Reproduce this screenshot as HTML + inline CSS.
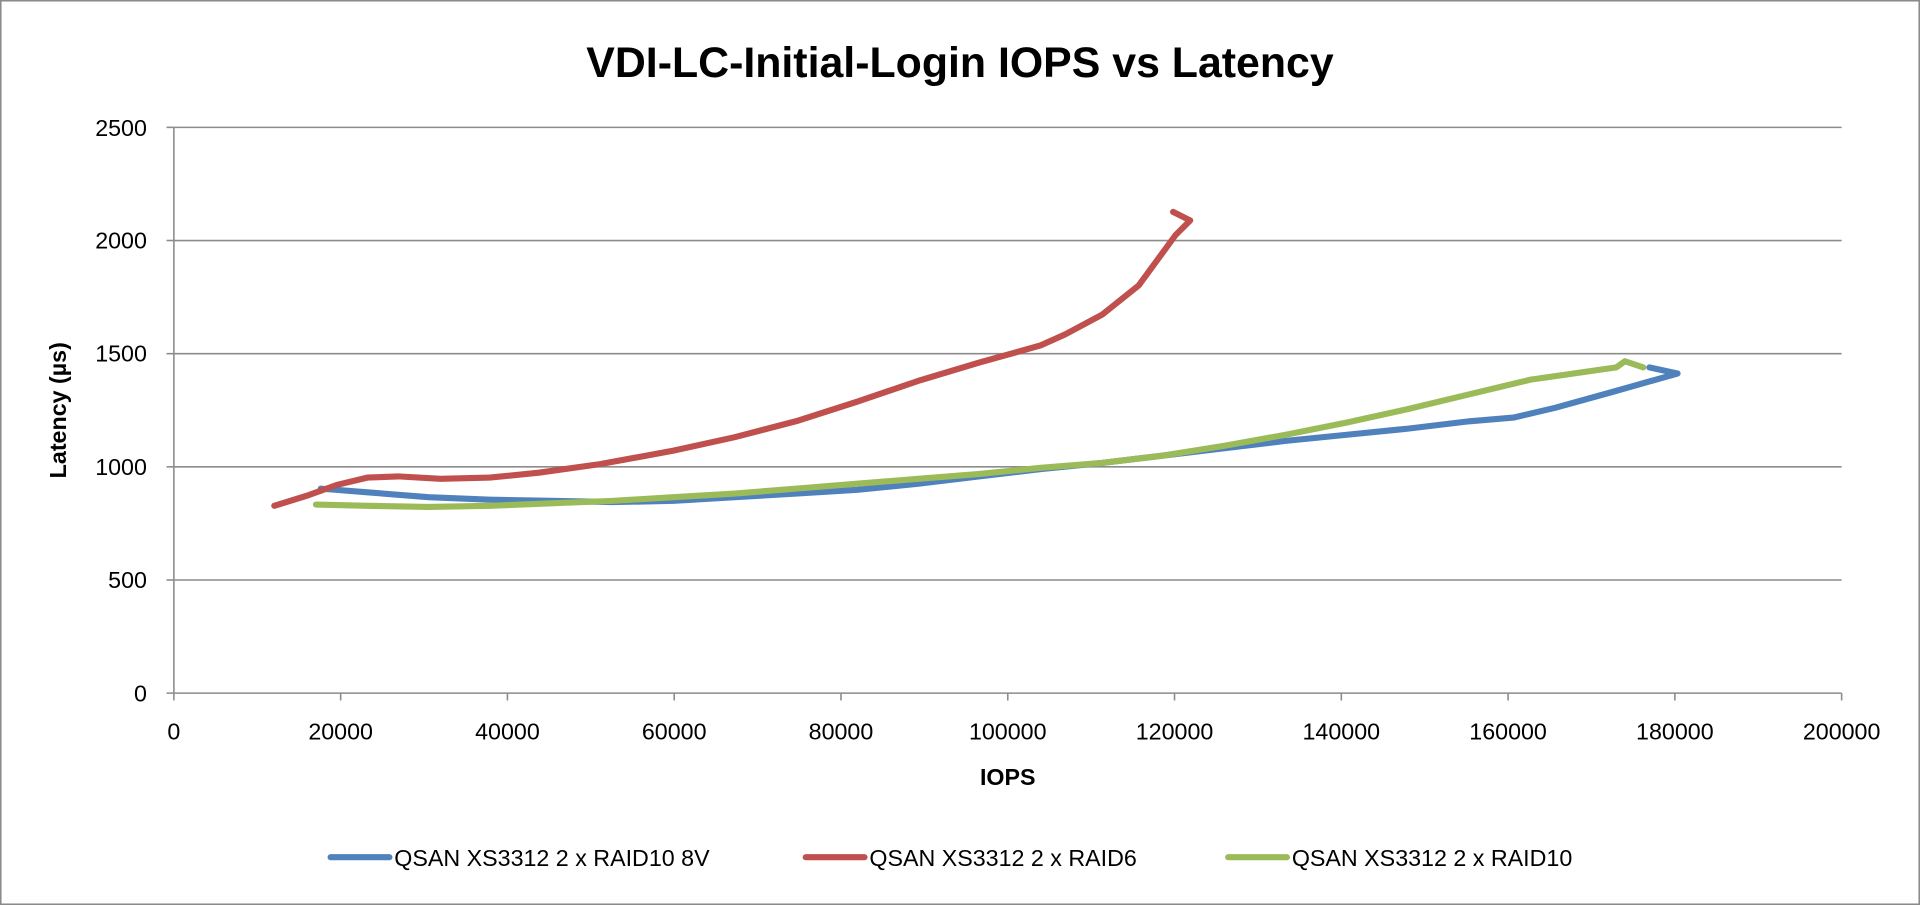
<!DOCTYPE html>
<html><head><meta charset="utf-8"><style>html,body{margin:0;padding:0;background:#fff}svg{display:block}</style></head>
<body>
<svg width="1920" height="905" viewBox="0 0 1568 739" preserveAspectRatio="none" xmlns="http://www.w3.org/2000/svg" font-family="'Liberation Sans', sans-serif">
<rect x="0.5" y="0.5" width="1567" height="738" fill="#fff" stroke="#8a8a8a" stroke-width="1.5"/>
<text x="784" y="63" text-anchor="middle" font-size="35" font-weight="bold">VDI-LC-Initial-Login IOPS vs Latency</text>
<g stroke="#8c8c8c" stroke-width="1.3">
<line x1="142" y1="104" x2="1504" y2="104"/>
<line x1="142" y1="196.4" x2="1504" y2="196.4"/>
<line x1="142" y1="288.8" x2="1504" y2="288.8"/>
<line x1="142" y1="381.2" x2="1504" y2="381.2"/>
<line x1="142" y1="473.6" x2="1504" y2="473.6"/>
<line x1="136" y1="566" x2="1504" y2="566"/>
<line x1="142" y1="104" x2="142" y2="566"/>
<line x1="136" y1="104" x2="142" y2="104"/><line x1="136" y1="196.4" x2="142" y2="196.4"/><line x1="136" y1="288.8" x2="142" y2="288.8"/><line x1="136" y1="381.2" x2="142" y2="381.2"/><line x1="136" y1="473.6" x2="142" y2="473.6"/>
<line x1="142" y1="566" x2="142" y2="572"/><line x1="278.2" y1="566" x2="278.2" y2="572"/><line x1="414.4" y1="566" x2="414.4" y2="572"/><line x1="550.6" y1="566" x2="550.6" y2="572"/><line x1="686.8" y1="566" x2="686.8" y2="572"/><line x1="823" y1="566" x2="823" y2="572"/><line x1="959.2" y1="566" x2="959.2" y2="572"/><line x1="1095.4" y1="566" x2="1095.4" y2="572"/><line x1="1231.6" y1="566" x2="1231.6" y2="572"/><line x1="1367.8" y1="566" x2="1367.8" y2="572"/><line x1="1504" y1="566" x2="1504" y2="572"/>
</g>
<g font-size="19" text-anchor="end" fill="#000">
<text x="120" y="111">2500</text><text x="120" y="203">2000</text><text x="120" y="295">1500</text><text x="120" y="388">1000</text><text x="120" y="480">500</text><text x="120" y="573">0</text>
</g>
<g font-size="19" text-anchor="middle" fill="#000">
<text x="142" y="604">0</text><text x="278.2" y="604">20000</text><text x="414.4" y="604">40000</text><text x="550.6" y="604">60000</text><text x="686.8" y="604">80000</text><text x="823" y="604">100000</text><text x="959.2" y="604">120000</text><text x="1095.4" y="604">140000</text><text x="1231.6" y="604">160000</text><text x="1367.8" y="604">180000</text><text x="1504" y="604">200000</text>
</g>
<text x="823" y="641" text-anchor="middle" font-size="19" font-weight="bold">IOPS</text>
<text transform="translate(54,335) rotate(-90)" text-anchor="middle" font-size="19" font-weight="bold">Latency (µs)</text>
<g fill="none" stroke-width="5" stroke-linecap="round" stroke-linejoin="round">
<polyline stroke="#4f81bd" points="262,399 300,402 350,406 400,408 450,409 500,410 550,409 600,406 650,403 700,400 750,395 800,389 850,383 900,378 950,372 1000,366 1050,360 1100,355 1150,350 1200,344 1236,341 1270,333 1317,320 1370,305 1347,300"/>
<polyline stroke="#9bbb59" points="258,412 300,413 350,414 400,413 450,411 500,409 550,406 600,403 650,399 700,395 750,391 800,387 850,382 900,378 950,372 1000,364 1050,355 1100,345 1150,334 1200,322 1250,310 1320,300 1327,295 1342,300"/>
<polyline stroke="#c0504d" points="224,413 250,405 275,396 300,390 325,389 360,391 400,390 440,386 490,379 550,368 600,357 650,344 700,328 750,311 800,296 850,282 870,273 900,257 930,233 960,192 972,180 958,173"/>
</g>
<g stroke-width="5" stroke-linecap="round">
<line x1="270" y1="700" x2="318" y2="700" stroke="#4f81bd"/>
<line x1="658" y1="700" x2="706" y2="700" stroke="#c0504d"/>
<line x1="1003" y1="700" x2="1051" y2="700" stroke="#9bbb59"/>
</g>
<g font-size="19" fill="#000">
<text x="322" y="707">QSAN XS3312 2 x RAID10 8V</text>
<text x="710" y="707">QSAN XS3312 2 x RAID6</text>
<text x="1055" y="707">QSAN XS3312 2 x RAID10</text>
</g>
</svg>
</body></html>
